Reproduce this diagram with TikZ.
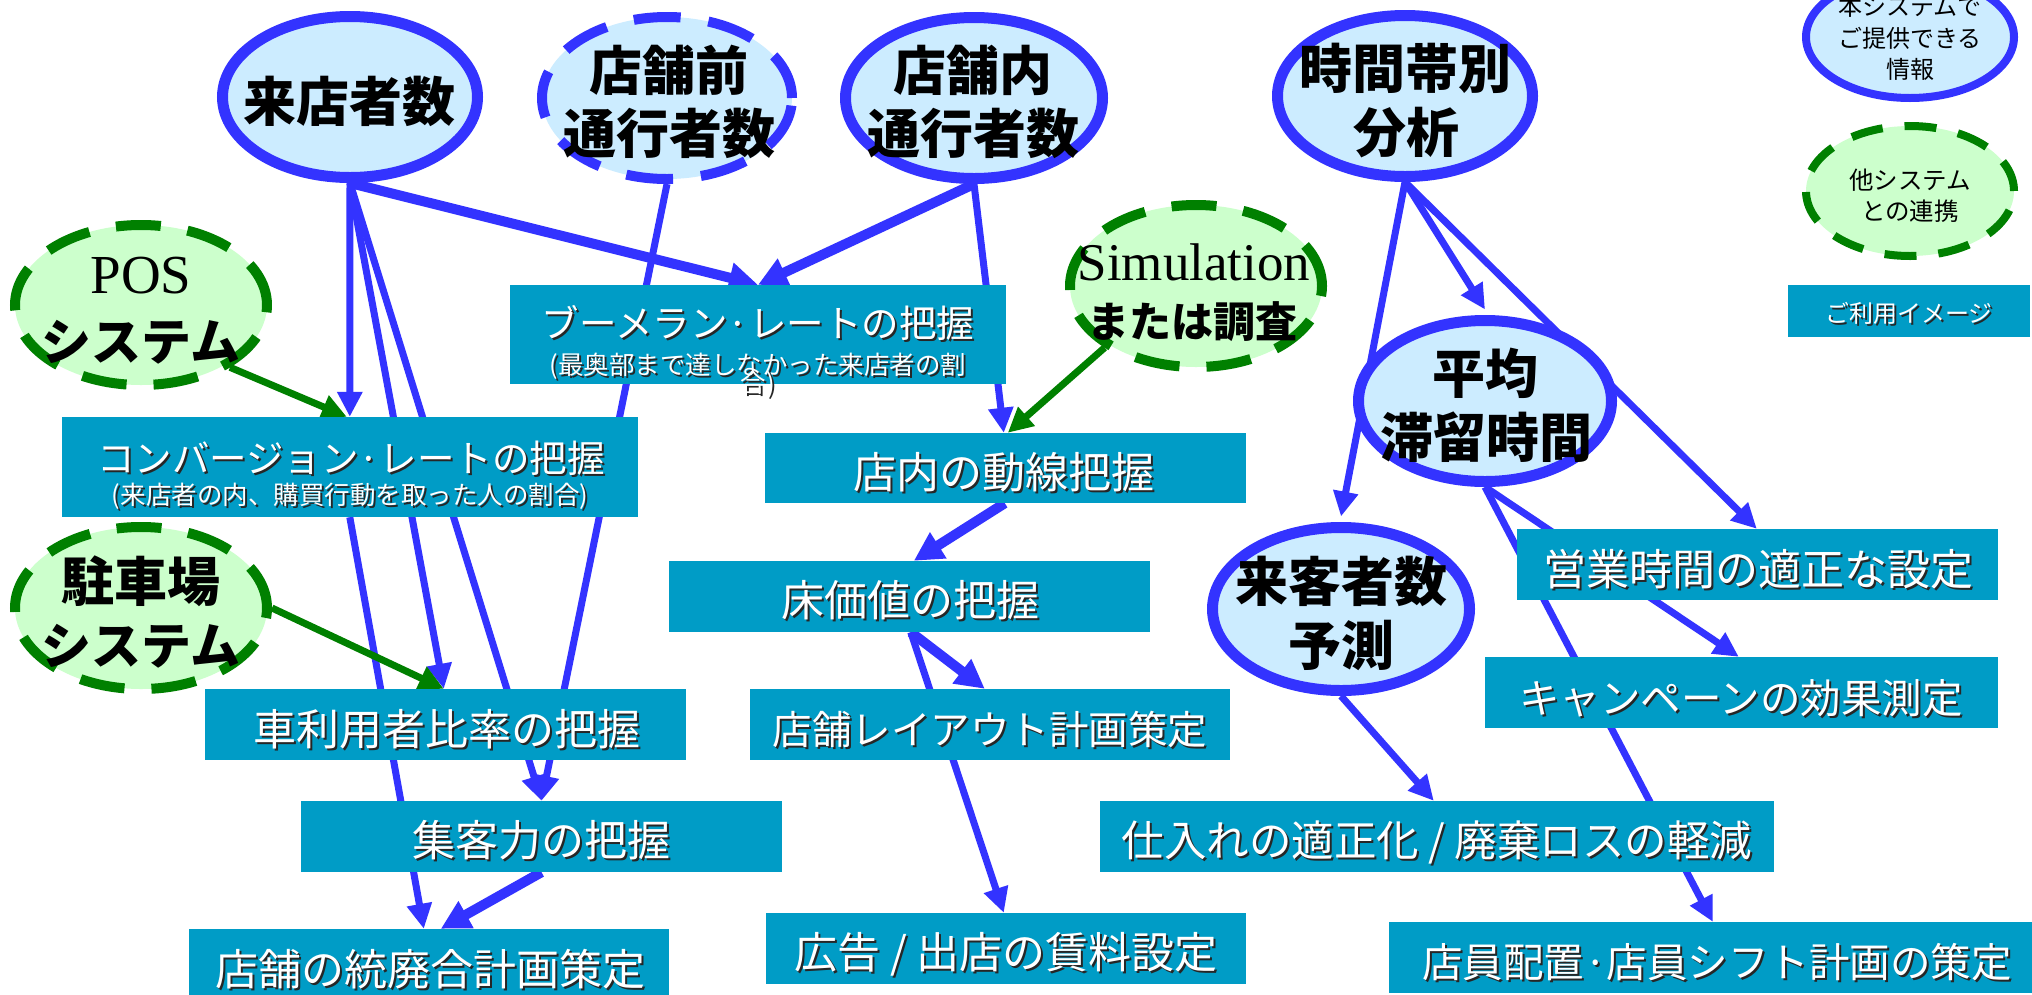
\documentclass[tikz,border=0pt]{standalone}
\usepackage{fontspec}
\newfontfamily\jp{Noto Sans CJK JP}
\newfontfamily\ser{Liberation Serif}
\usetikzlibrary{arrows.meta,shapes.geometric}
\definecolor{boxcol}{RGB}{0,156,198}
\definecolor{lblue}{RGB}{204,236,255}
\definecolor{lgreen}{RGB}{204,255,204}
\definecolor{bstroke}{RGB}{51,51,255}
\definecolor{gstroke}{RGB}{0,128,0}
\pgfdeclarelayer{bg}
\pgfsetlayers{bg,main}
\newcommand\fsz[1]{\fontsize{#1pt}{#1pt}\selectfont}
\newcommand\wtext[5]{%
  \node[anchor=base, text=black!85, font=\jp\fsz{#4}, inner sep=0pt] (#1s) at (#2+2,#3+2) {#5};
  \node[anchor=base, text=white, font=\jp\fsz{#4}, inner sep=0pt] (#1) at (#2,#3) {#5};}
\newcommand\btext[5]{%
  \node[anchor=base, text=black, font=\jp\bfseries\fsz{#4}, inner sep=0pt] (#1) at (#2,#3) {#5};}
\newcommand\ltext[5]{%
  \node[anchor=base, text=black, font=\jp\fsz{#4}, inner sep=0pt] (#1) at (#2,#3) {#5};}
\begin{document}
\begin{tikzpicture}[x=1pt,y=-1pt,
  solidell/.style={ellipse, draw=bstroke, fill=lblue, line width=11pt, inner sep=0pt},
  dashbell/.style={ellipse, draw=bstroke, fill=lblue, line width=10pt, dash pattern=on 47pt off 28pt, inner sep=0pt},
  dashgell/.style={ellipse, draw=gstroke, fill=lgreen, line width=10pt, dash pattern=on 45pt off 27pt, inner sep=0pt},
  boxn/.style={rectangle, fill=boxcol, inner sep=0pt},
  thinarr/.style={draw=bstroke, line width=7pt, -{Triangle[length=25pt,width=24pt]}},
  thickarr/.style={draw=bstroke, line width=10pt, -{Triangle[length=29pt,width=29pt]}},
  garr/.style={draw=gstroke, line width=7pt, -{Triangle[length=25pt,width=24pt]}}]
\useasboundingbox (0,0) rectangle (2032,994);

% ellipses
\node[solidell, minimum width=255pt, minimum height=161pt] (raiten) at (350,97) {};
\node[dashbell, minimum width=250pt, minimum height=162pt] (maezen) at (667,98) {};
\node[solidell, minimum width=257pt, minimum height=161pt] (naibu) at (974,98) {};
\node[solidell, minimum width=255pt, minimum height=161pt] (jikan) at (1405,96) {};
\node[ellipse, draw=bstroke, fill=lblue, line width=8pt, inner sep=0pt, minimum width=208pt, minimum height=122pt] (leg1) at (1910,37) {};
\node[ellipse, draw=gstroke, fill=lgreen, line width=8pt, dash pattern=on 32pt off 22pt, inner sep=0pt, minimum width=208pt, minimum height=130pt] (leg2) at (1910,191) {};
\node[dashgell, minimum width=252pt, minimum height=160pt] (pos) at (141,305) {};
\node[dashgell, minimum width=252pt, minimum height=162pt] (sim) at (1196,286) {};
\node[solidell, minimum width=253pt, minimum height=161pt] (heikin) at (1485,401) {};
\node[dashgell, minimum width=252pt, minimum height=162pt] (chusha) at (141,608) {};
\node[solidell, minimum width=257pt, minimum height=163pt] (yosoku) at (1341,609) {};

% boxes
\node[boxn, minimum width=242pt, minimum height=52pt] (legbox) at (1909,311) {};
\node[boxn, minimum width=496pt, minimum height=99pt] (boom) at (758,334.5) {};
\node[boxn, minimum width=576pt, minimum height=100pt] (conv) at (350,467) {};
\node[boxn, minimum width=481pt, minimum height=70pt] (dosen) at (1005.5,468) {};
\node[boxn, minimum width=481pt, minimum height=71pt] (yuka) at (909.5,596.5) {};
\node[boxn, minimum width=480pt, minimum height=71pt] (layout) at (990,724.5) {};
\node[boxn, minimum width=481pt, minimum height=71pt] (kuruma) at (445.5,724.5) {};
\node[boxn, minimum width=481pt, minimum height=71pt] (shukyaku) at (541.5,836.5) {};
\node[boxn, minimum width=480pt, minimum height=72pt] (tohai) at (429,965) {};
\node[boxn, minimum width=480pt, minimum height=71pt] (kokoku) at (1006,948.5) {};
\node[boxn, minimum width=481pt, minimum height=71pt] (eigyo) at (1757.5,564.5) {};
\node[boxn, minimum width=513pt, minimum height=71pt] (camp) at (1741.5,692.5) {};
\node[boxn, minimum width=674pt, minimum height=71pt] (shiire) at (1437,836.5) {};
\node[boxn, minimum width=657pt, minimum height=71pt] (tenin) at (1717.5,957.5) {};

% connectors (behind the shapes)
\begin{pgfonlayer}{bg}
\fill[white] (0,0) rectangle (2032,994);
\draw[thinarr] (raiten.south) -- ([xshift=288pt]conv.north west);
\draw[thickarr] (raiten.south) -- (boom.north);
\draw[thinarr] (raiten.south) -- ([xshift=239pt]kuruma.north west);
\draw[thinarr] (raiten.south) -- (shukyaku.north);
\draw[thinarr] ([xshift=288pt]conv.south west) -- ([xshift=235pt]tohai.north west);
\draw[thickarr] (shukyaku.south) -- ([xshift=252pt]tohai.north west);
\draw[thinarr] (maezen.south) -- (shukyaku.north);
\draw[thickarr] (naibu.south) -- (boom.north);
\draw[thinarr] (naibu.south) -- ([xshift=239pt]dosen.north west);
\draw[garr] (sim.214) -- ([xshift=243pt]dosen.north west);
\draw[thickarr] ([xshift=240pt]dosen.south west) -- ([xshift=245pt]yuka.north west);
\draw[thickarr] ([xshift=242pt]yuka.south west) -- ([xshift=235pt]layout.north west);
\draw[thinarr] ([xshift=242pt]yuka.south west) -- ([xshift=238pt]kokoku.north west);
\draw[garr] (pos.-35) -- ([xshift=285pt]conv.north west);
\draw[garr] (chusha.east) -- ([xshift=239pt]kuruma.north west);
\draw[thinarr] (jikan.south) -- ([yshift=5.5pt]yosoku.north);
\draw[thinarr] (jikan.south) -- ([yshift=5.5pt]heikin.north);
\draw[thinarr] (jikan.south) -- ([xshift=240pt]eigyo.north west);
\draw[thinarr] (heikin.south) -- ([xshift=254pt]camp.north west);
\draw[thinarr] (heikin.south) -- ([xshift=324pt]tenin.north west);
\draw[thinarr] (yosoku.south) -- ([xshift=334pt]shiire.north west);
\end{pgfonlayer}

% ellipse texts
\btext{raitenT}{349}{121}{53}{来店者数}
\btext{maezenT1}{669}{90}{53}{店舗前}
\btext{maezenT2}{669}{153}{53}{通行者数}
\btext{naibuT1}{973}{90}{53}{店舗内}
\btext{naibuT2}{973}{153}{53}{通行者数}
\btext{jikanT1}{1405}{88}{53}{時間帯別}
\btext{jikanT2}{1406}{152}{53}{分析}
\btext{heikinT1}{1485}{393}{53}{平均}
\btext{heikinT2}{1486}{457}{53}{滞留時間}
\btext{yosokuT1}{1341}{601}{53}{来客者数}
\btext{yosokuT2}{1341}{665}{53}{予測}
\btext{chushaT1}{141}{601}{53}{駐車場}
\btext{chushaT2}{141}{664}{50}{システム}
\node[anchor=base, font=\ser\fsz{55}, inner sep=0pt] (posT1) at (141,293) {POS};
\btext{posT2}{141}{360}{50}{システム}
\node[anchor=base, font=\ser\fsz{53}, inner sep=0pt] (simT1) at (1194,280) {Simulation};
\btext{simT2}{1192}{337}{42}{または調査}
\ltext{leg1T1}{1910}{15}{24}{本システムで}
\ltext{leg1T2}{1910}{47}{24}{ご提供できる}
\ltext{leg1T3}{1910}{78}{24}{情報}
\ltext{leg2T1}{1910}{189}{24.5}{他システム}
\ltext{leg2T2}{1910}{220}{24.5}{との連携}

% box texts
\wtext{legboxT}{1909}{322}{24}{ご利用イメージ}
\wtext{boomT1}{758}{337}{37.5}{ブーメラン·レートの把握}
\wtext{boomT2}{758}{374}{25.5}{(最奥部まで達しなかった来店者の割}
\wtext{boomT3}{758}{392}{25.5}{合)}
\wtext{convT1}{351}{472}{37.5}{コンバージョン·レートの把握}
\wtext{convT2}{350}{504}{25.5}{(来店者の内、購買行動を取った人の割合)}
\wtext{dosenT}{1004}{488}{43}{店内の動線把握}
\wtext{yukaT}{910}{616}{43}{床価値の把握}
\wtext{layoutT}{990}{744}{39.5}{店舗レイアウト計画策定}
\wtext{kurumaT}{447}{745}{43}{車利用者比率の把握}
\wtext{shukyakuT}{541}{856}{43}{集客力の把握}
\wtext{tohaiT}{430}{985}{43}{店舗の統廃合計画策定}
\wtext{kokokuT}{1006}{968}{43}{広告 / 出店の賃料設定}
\wtext{eigyoT}{1758}{585}{43}{営業時間の適正な設定}
\wtext{campT}{1741}{713}{40.5}{キャンペーンの効果測定}
\wtext{shiireT}{1437}{856}{42.5}{仕入れの適正化 / 廃棄ロスの軽減}
\wtext{teninT}{1717}{977}{40.5}{店員配置·店員シフト計画の策定}
\end{tikzpicture}
\end{document}
